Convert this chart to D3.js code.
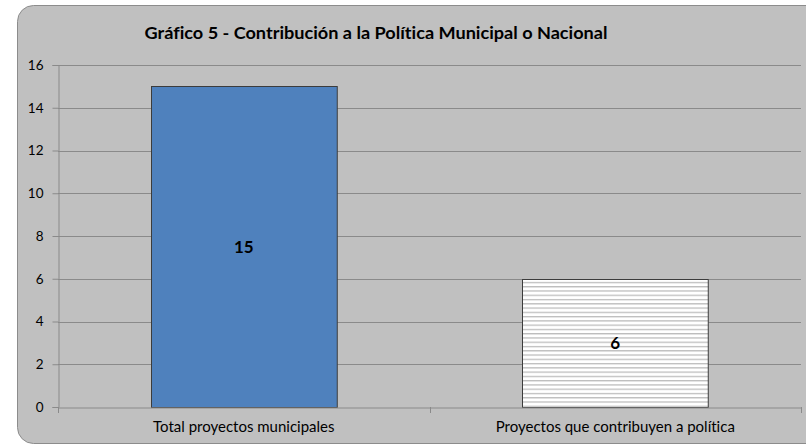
<!DOCTYPE html>
<html>
<head>
<meta charset="utf-8">
<script src="https://cdn.jsdelivr.net/npm/d3@7"></script>
<style>
  body { margin: 0; background: #fff; overflow: hidden; }
  svg { display: block; font-family: Lato, "Open Sans", sans-serif; font-variant-ligatures: none; }
</style>
</head>
<body>
<svg id="chart" width="806" height="445"></svg>
<script>
// datos del gráfico
const categories = ["Total proyectos municipales", "Proyectos que contribuyen a política"];
const values = [15, 6];
const yTicks = [0, 2, 4, 6, 8, 10, 12, 14, 16];
const title = "Gráfico 5 - Contribución a la Política Municipal o Nacional";

const svg = d3.select("#chart");

// fondo con esquinas redondeadas (sale del cuadro por la derecha y abajo)
svg.append("rect")
    .attr("x", 17.5).attr("y", 5.5)
    .attr("width", 900).attr("height", 438)
    .attr("rx", 16).attr("ry", 16)
    .attr("fill", "#c0c0c0")
    .attr("stroke", "#8c8c8c")
    .attr("stroke-width", 1);

// patrón de rayas horizontales
const defs = svg.append("defs");
const pat = defs.append("pattern")
    .attr("id", "rayas")
    .attr("patternUnits", "userSpaceOnUse")
    .attr("width", 8).attr("height", 4.27);
pat.append("rect").attr("width", 8).attr("height", 4.27).attr("fill", "#fff");
pat.append("rect").attr("y", 0).attr("width", 8).attr("height", 1.3).attr("fill", "#bdbdbd");

const plot = { left: 58, right: 801, top: 65, bottom: 407 };

const x = d3.scaleBand()
    .domain(categories)
    .range([plot.left, plot.right])
    .paddingInner(0.5)
    .paddingOuter(0.25);

const y = d3.scaleLinear()
    .domain([0, 16])
    .range([plot.bottom, plot.top]);

// líneas de cuadrícula
svg.append("g")
    .selectAll("line")
    .data(yTicks.filter(d => d > 0))
    .enter().append("line")
    .attr("x1", plot.left).attr("x2", plot.right)
    .attr("y1", d => Math.round(y(d)) + 0.5)
    .attr("y2", d => Math.round(y(d)) + 0.5)
    .attr("stroke", "#8a8a8a")
    .attr("stroke-width", 1);

// eje Y
const yAxis = svg.append("g")
    .attr("transform", `translate(${plot.left + 0.5},0)`)
    .call(d3.axisLeft(y).tickValues(yTicks).tickSize(6).tickPadding(9)
        .tickFormat(d3.format("d")));
yAxis.select(".domain").attr("stroke", "#8a8a8a");
yAxis.selectAll(".tick line").attr("stroke", "#8a8a8a");
yAxis.selectAll(".tick text")
    .attr("fill", "#000")
    .style("font-size", "13.5px")
    .style("font-family", "Lato, 'Open Sans', sans-serif");

// barras
svg.append("g")
    .selectAll("rect")
    .data(values)
    .enter().append("rect")
    .attr("x", (d, i) => Math.round(x(categories[i])) + 0.5)
    .attr("y", d => Math.round(y(d)) + 0.5)
    .attr("width", x.bandwidth())
    .attr("height", d => plot.bottom - Math.round(y(d)))
    .attr("fill", (d, i) => i === 0 ? "#4f81bd" : "url(#rayas)")
    .attr("stroke", "#3c3c3c")
    .attr("stroke-width", 1);

// eje X
const xAxis = svg.append("g")
    .attr("transform", `translate(0,${plot.bottom + 0.5})`)
    .call(d3.axisBottom(x).tickSize(0).tickPadding(14));
xAxis.select(".domain").attr("stroke", "#8a8a8a");
xAxis.selectAll(".tick text")
    .attr("fill", "#000")
    .style("font-size", "15px")
    .style("font-family", "Lato, 'Open Sans', sans-serif");

// marcas entre categorías
svg.append("g")
    .selectAll("line")
    .data([0, 1, 2])
    .enter().append("line")
    .attr("x1", d => Math.round(plot.left + d * (plot.right - plot.left) / 2) + 0.5)
    .attr("x2", d => Math.round(plot.left + d * (plot.right - plot.left) / 2) + 0.5)
    .attr("y1", plot.bottom)
    .attr("y2", plot.bottom + 6)
    .attr("stroke", "#8a8a8a");

// etiquetas de valor
svg.append("g")
    .selectAll("text")
    .data(values)
    .enter().append("text")
    .attr("x", (d, i) => x(categories[i]) + x.bandwidth() / 2)
    .attr("y", d => (y(d) + plot.bottom) / 2 + 6)
    .attr("text-anchor", "middle")
    .attr("font-weight", "bold")
    .attr("font-size", "17px")
    .attr("fill", "#000")
    .text(d => d);

// título
svg.append("text")
    .attr("x", 376)
    .attr("y", 39)
    .attr("text-anchor", "middle")
    .attr("font-weight", "bold")
    .attr("font-size", "17px")
    .attr("textLength", 463)
    .attr("lengthAdjust", "spacingAndGlyphs")
    .attr("fill", "#000")
    .text(title);
</script>
</body>
</html>
